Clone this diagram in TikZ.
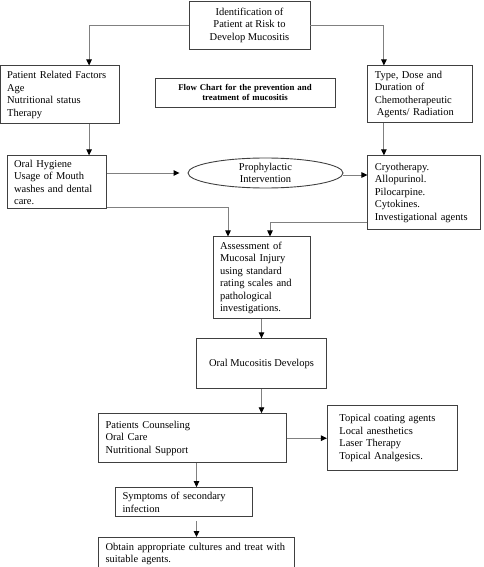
\documentclass[tikz,border=0pt]{standalone}
\usepackage{fontspec}
\setmainfont{Liberation Serif}
\usepackage{xcolor}
\usepackage{tikz}
\usetikzlibrary{arrows.meta,positioning,shapes}

\begin{document}
\begin{tikzpicture}[x=1pt,y=1pt]
                \tikzstyle{block} = [draw=black!75, line width=0.9pt, rectangle, align=left, inner xsep=7pt, inner ysep=0pt, font=\fontsize{10.5}{12.5}\selectfont]
                \tikzstyle{line} = [draw=black!50, line width=0.9pt]
                \tikzstyle{arr} = [line, -{Triangle[length=6pt,width=5.5pt,black]}]

                \useasboundingbox (0,0) rectangle (483,-567);

                \node [block, align=center, minimum width=121pt, minimum height=48pt] (ident) at (249.5,-25) {Identification of\\Patient at Risk to\\Develop Mucositis};
                \node [block, below left = 16pt and 69pt of ident, text width=105pt, minimum height=58pt] (factors) {Patient Related Factors\\Age\\Nutritional status\\Therapy};
                \node [block, below right = 16pt and 57pt of ident, text width=91pt, minimum height=57pt] (chemo) {Type, Dose and\\Duration of\\Chemotherapeutic\\\hspace{2pt}Agents/ Radiation};
                \node [block, right = 35pt of factors, yshift=2pt, align=center, text width=166pt, inner xsep=7pt, minimum height=29pt, font=\fontsize{8.8}{10}\selectfont\bfseries] (title) {Flow Chart for the prevention and\\treatment of mucositis};
                \node [block, below = 31pt of factors, xshift=-3pt, text width=85pt, minimum height=53pt] (hygiene) {Oral Hygiene\\Usage of Mouth\\washes and dental\\care.};
                \node [block, below right = 32pt and 0pt of chemo.south west, text width=99pt, minimum height=74pt] (cryo) {Cryotherapy.\\Allopurinol.\\Pilocarpine.\\Cytokines.\\Investigational agents};
                \node [draw=black!75, line width=0.9pt, ellipse, align=center, inner sep=0pt, minimum width=155pt, minimum height=30pt, font=\fontsize{10.5}{12.5}\selectfont] (proph) at (265.5,-173) {Prophylactic\\Intervention};
                \node [block, below = 48pt of proph, xshift=-4pt, text width=83pt, minimum height=82pt] (assess) {Assessment of\\Mucosal Injury\\using standard\\rating scales and\\pathological\\investigations.};
                \node [block, below = 19pt of assess, align=center, minimum width=130pt, minimum height=50pt] (develops) {Oral Mucositis Develops};
                \node [block, below = 24pt of develops, xshift=-69pt, text width=174pt, minimum height=49pt] (counsel) {Patients Counseling\\Oral Care\\Nutritional Support};
                \node [block, right = 40pt of counsel, text width=106pt, inner xsep=12pt, minimum height=65pt] (topical) {Topical coating agents\\Local anesthetics\\Laser Therapy\\Topical Analgesics.};
                \node [block, below = 24pt of counsel, xshift=-8.5pt, text width=123pt, minimum height=29pt] (symptoms) {Symptoms of secondary\\infection};
                \node [block, below = 20pt of symptoms, xshift=12.5pt, text width=182pt, minimum height=33pt] (cultures) {Obtain appropriate cultures and treat with\\suitable agents.};

                \draw [arr] (ident.west) -| ([xshift=29.5pt]factors.north);
                \draw [arr] (ident.east) -| ([xshift=-36.5pt]chemo.north);
                \draw [arr] ([xshift=29.5pt]factors.south) -- ([xshift=29.5pt]factors.south |- hygiene.north);
                \draw [arr] ([xshift=-36.5pt]chemo.south) -- ([xshift=-36.5pt]chemo.south |- cryo.north);
                \draw [arr] (hygiene.east |- proph.west) -- ([xshift=-8pt]proph.west);
                \draw [arr] ([yshift=-2pt]proph.east) -- ([yshift=-2pt]proph.east -| cryo.west);
                \draw [arr] ([yshift=2pt]hygiene.south east) -| ([xshift=-33.5pt]assess.north);
                \draw [arr] ([yshift=8pt]cryo.south west) -| ([xshift=8.5pt]assess.north);
                \draw [arr] (assess.south) -- (assess.south |- develops.north);
                \draw [arr] (develops.south) -- (develops.south |- counsel.north);
                \draw [arr] (counsel.east) -- (counsel.east -| topical.west);
                \draw [arr] ([xshift=4pt]counsel.south) -- ([xshift=4pt]counsel.south |- symptoms.north);
                \draw [arr] ([yshift=-4pt]symptoms.south -| cultures.north) -- (cultures.north);
\end{tikzpicture}
\end{document}
